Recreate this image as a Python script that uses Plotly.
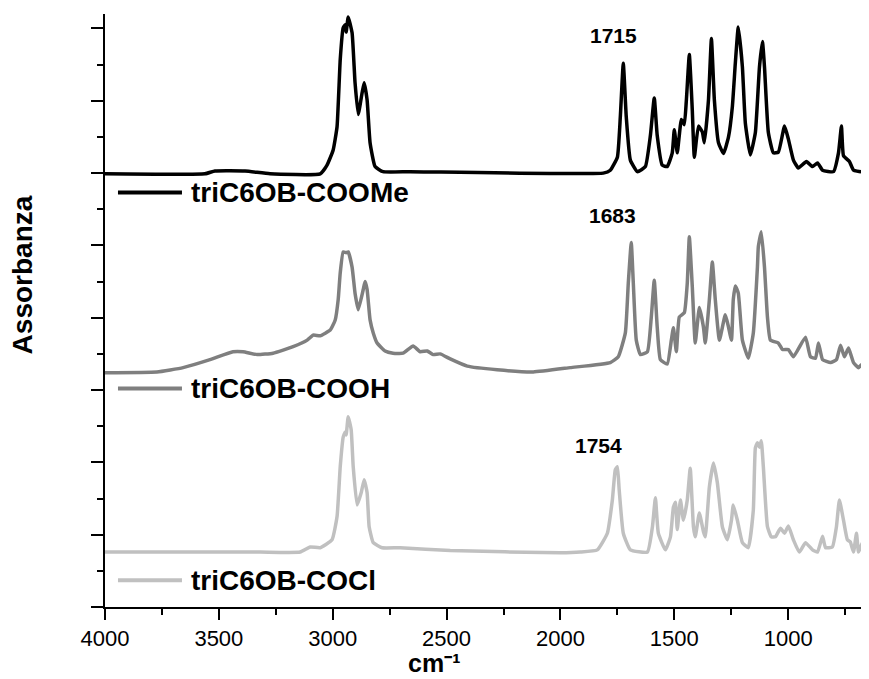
import plotly.graph_objects as go

# ---- data (wavenumber cm-1, stacked absorbance) ----
wn_coome = [4000, 3561, 3517, 3385, 3275, 3055, 3025, 2998, 2981, 2967, 2954, 2945, 2941, 2932, 2915, 2902,
            2888, 2871, 2862, 2849, 2836, 2814, 2779, 2660, 1812, 1781, 1750, 1737, 1724, 1711, 1693, 1662,
            1627, 1605, 1588, 1575, 1553, 1531, 1509, 1500, 1487, 1469, 1456, 1447, 1434, 1421, 1412, 1394,
            1377, 1368, 1350, 1337, 1324, 1306, 1284, 1262, 1245, 1232, 1219, 1201, 1188, 1166, 1144, 1126,
            1113, 1104, 1087, 1065, 1043, 1016, 999, 977, 955, 920, 893, 871, 849, 801, 779, 766, 757, 731,
            713, 683, 669, 647]
a_coome = [5.99, 5.99, 6.03, 6.03, 5.99, 5.99, 6.11, 6.32, 6.64, 7.57, 8.01, 8.05, 7.95, 8.16, 7.94, 7.25,
           6.81, 7.11, 7.25, 7.01, 6.42, 6.09, 6.02, 6.02, 6.00, 6.04, 6.22, 6.78, 7.52, 6.78, 6.18, 6.02,
           6.09, 6.52, 7.04, 6.52, 6.11, 6.09, 6.28, 6.60, 6.28, 6.74, 6.67, 7.01, 7.64, 6.87, 6.22, 6.65,
           6.57, 6.42, 7.01, 7.86, 7.01, 6.42, 6.27, 6.50, 6.92, 7.52, 8.02, 7.47, 6.69, 6.25, 6.56, 7.47,
           7.82, 7.47, 6.56, 6.28, 6.29, 6.65, 6.47, 6.18, 6.07, 6.16, 6.09, 6.14, 6.04, 6.02, 6.28, 6.65,
           6.24, 6.16, 6.04, 6.02, 6.03, 6.00]

wn_cooh = [4000, 3772, 3657, 3539, 3438, 3394, 3332, 3262, 3174, 3112, 3086, 3055, 3011, 2989, 2976, 2967,
           2954, 2941, 2932, 2915, 2902, 2888, 2866, 2858, 2849, 2836, 2822, 2805, 2770, 2735, 2691, 2647,
           2616, 2585, 2559, 2528, 2484, 2409, 2278, 2119, 1957, 1781, 1746, 1715, 1702, 1689, 1680, 1667,
           1649, 1618, 1601, 1588, 1575, 1561, 1531, 1513, 1504, 1491, 1478, 1456, 1443, 1434, 1421, 1408,
           1390, 1372, 1364, 1346, 1333, 1320, 1302, 1276, 1262, 1249, 1241, 1232, 1219, 1201, 1175, 1153,
           1135, 1131, 1118, 1104, 1091, 1078, 1043, 1025, 999, 977, 924, 902, 880, 867, 849, 814, 788, 770,
           753, 735, 713, 691, 678, 661, 647]
a_cooh = [3.24, 3.25, 3.31, 3.42, 3.53, 3.53, 3.49, 3.51, 3.60, 3.69, 3.76, 3.75, 3.83, 3.97, 4.25, 4.62,
          4.91, 4.90, 4.91, 4.70, 4.34, 4.11, 4.39, 4.50, 4.39, 3.97, 3.79, 3.65, 3.54, 3.51, 3.51, 3.61,
          3.53, 3.54, 3.49, 3.50, 3.43, 3.33, 3.28, 3.25, 3.31, 3.38, 3.46, 3.79, 4.48, 5.04, 4.48, 3.69,
          3.49, 3.53, 4.01, 4.52, 3.87, 3.42, 3.36, 3.69, 3.86, 3.53, 4.01, 4.07, 4.48, 5.12, 4.43, 3.65,
          4.14, 3.87, 3.65, 4.25, 4.77, 4.25, 3.69, 4.04, 3.87, 3.69, 4.25, 4.44, 4.34, 3.69, 3.44, 3.79,
          4.70, 4.98, 5.19, 4.70, 4.01, 3.69, 3.65, 3.56, 3.56, 3.46, 3.73, 3.46, 3.44, 3.65, 3.42, 3.38,
          3.42, 3.62, 3.46, 3.58, 3.38, 3.31, 3.35, 3.25, 3.24]

wn_cocl = [4000, 3583, 3319, 3143, 3099, 3055, 3003, 2981, 2967, 2954, 2945, 2941, 2932, 2919, 2910, 2893,
           2875, 2862, 2849, 2840, 2822, 2783, 2704, 2484, 2001, 1913, 1838, 1794, 1772, 1759, 1750, 1742,
           1724, 1693, 1618, 1596, 1583, 1570, 1539, 1517, 1504, 1495, 1487, 1473, 1460, 1443, 1430, 1416,
           1408, 1390, 1372, 1364, 1346, 1328, 1311, 1289, 1267, 1249, 1241, 1223, 1201, 1175, 1153, 1144,
           1135, 1126, 1118, 1109, 1091, 1074, 1056, 1034, 1016, 999, 977, 951, 924, 893, 871, 849, 836,
           806, 788, 775, 757, 740, 727, 713, 700, 691, 674, 661, 647]
a_cocl = [0.76, 0.76, 0.76, 0.76, 0.83, 0.82, 0.93, 1.25, 1.94, 2.35, 2.42, 2.38, 2.63, 2.45, 1.94, 1.41,
          1.58, 1.76, 1.58, 1.11, 0.89, 0.82, 0.82, 0.78, 0.75, 0.76, 0.79, 1.02, 1.48, 1.90, 1.94, 1.62,
          1.02, 0.79, 0.76, 1.11, 1.51, 1.02, 0.79, 0.97, 1.38, 1.45, 1.07, 1.48, 1.20, 1.48, 1.92, 1.11,
          0.97, 1.30, 1.04, 0.97, 1.66, 1.99, 1.72, 1.11, 0.93, 1.20, 1.41, 1.20, 0.89, 0.82, 1.34, 2.20,
          2.27, 2.21, 2.30, 1.94, 1.11, 0.97, 0.97, 1.09, 1.02, 1.12, 0.93, 0.76, 0.89, 0.79, 0.76, 0.98,
          0.82, 0.83, 1.11, 1.48, 1.20, 0.93, 0.90, 0.76, 1.02, 0.76, 0.89, 0.75, 0.76]

series_names = ["triC6OB-COOMe", "triC6OB-COOH", "triC6OB-COCl"]
series_colors = ["#000000", "#7f7f7f", "#c0c0c0"]
legend_y = [5.73, 3.02, 0.37]
peak_labels = ["1715", "1683", "1754"]
peak_label_x = [1768, 1772, 1834]
peak_label_y = [7.90, 5.41, 2.23]
x_tick_vals = [4000, 3500, 3000, 2500, 2000, 1500, 1000]

FONT = "Arial, Liberation Sans, Helvetica, sans-serif"

fig = go.Figure()
for wn, a, name, col in zip([wn_coome, wn_cooh, wn_cocl], [a_coome, a_cooh, a_cocl],
                            series_names, series_colors):
    fig.add_trace(go.Scatter(x=wn, y=a, mode="lines", name=name, showlegend=False,
                             line=dict(color=col, width=3.5, shape="spline", smoothing=0.4)))

# legend-like samples under each spectrum
for name, col, ly in zip(series_names, series_colors, legend_y):
    fig.add_shape(type="line", xref="x", yref="y", x0=3943, x1=3662, y0=ly, y1=ly,
                  line=dict(color=col, width=4))
    fig.add_annotation(x=3630, y=ly, xref="x", yref="y", text="<b>%s</b>" % name, showarrow=False,
                       xanchor="left", yanchor="middle", font=dict(family=FONT, size=28, color="#000"))

for t, px, py in zip(peak_labels, peak_label_x, peak_label_y):
    fig.add_annotation(x=px, y=py, xref="x", yref="y", text="<b>%s</b>" % t, showarrow=False,
                       xanchor="center", yanchor="middle", font=dict(family=FONT, size=21, color="#000"))

fig.add_annotation(x=-0.108, y=0.56, xref="paper", yref="paper", text="<b>Assorbanza</b>",
                   textangle=-90, showarrow=False, xanchor="center", yanchor="middle",
                   font=dict(family=FONT, size=28, color="#000"))
fig.add_annotation(x=0.43, y=-0.1214, xref="paper", yref="paper", text="<b>cm⁻¹</b>",
                   showarrow=False, xanchor="center", yanchor="bottom",
                   font=dict(family=FONT, size=25, color="#000"))

# the page body adds an 8 px margin, so the figure is sized to fit the window inside it
fig.update_layout(
    width=861, height=671,
    margin=dict(l=97, r=0, t=6, b=72, autoexpand=False),
    paper_bgcolor="white", plot_bgcolor="white",
    font=dict(family=FONT, color="#000"),
    showlegend=False,
)
fig.update_xaxes(
    range=[4000, 645], tickmode="array", tickvals=x_tick_vals,
    ticktext=[str(v) for v in x_tick_vals], automargin=False,
    showgrid=False, zeroline=False, showline=True, linecolor="#000", linewidth=2,
    ticks="outside", ticklen=11, tickwidth=2, tickcolor="#000",
    tickfont=dict(family=FONT, size=22, color="#000"),
    minor=dict(ticks="outside", ticklen=6, tickwidth=2, tickcolor="#000", dtick=250, tick0=0, showgrid=False),
)
fig.update_yaxes(
    range=[0, 8.2], tick0=0, dtick=1, showticklabels=False, automargin=False,
    showgrid=False, zeroline=False, showline=True, linecolor="#000", linewidth=2,
    ticks="outside", ticklen=12, tickwidth=2, tickcolor="#000",
    minor=dict(ticks="outside", ticklen=6, tickwidth=2, tickcolor="#000", dtick=0.5, tick0=0, showgrid=False),
)

fig.write_html("out.html")
